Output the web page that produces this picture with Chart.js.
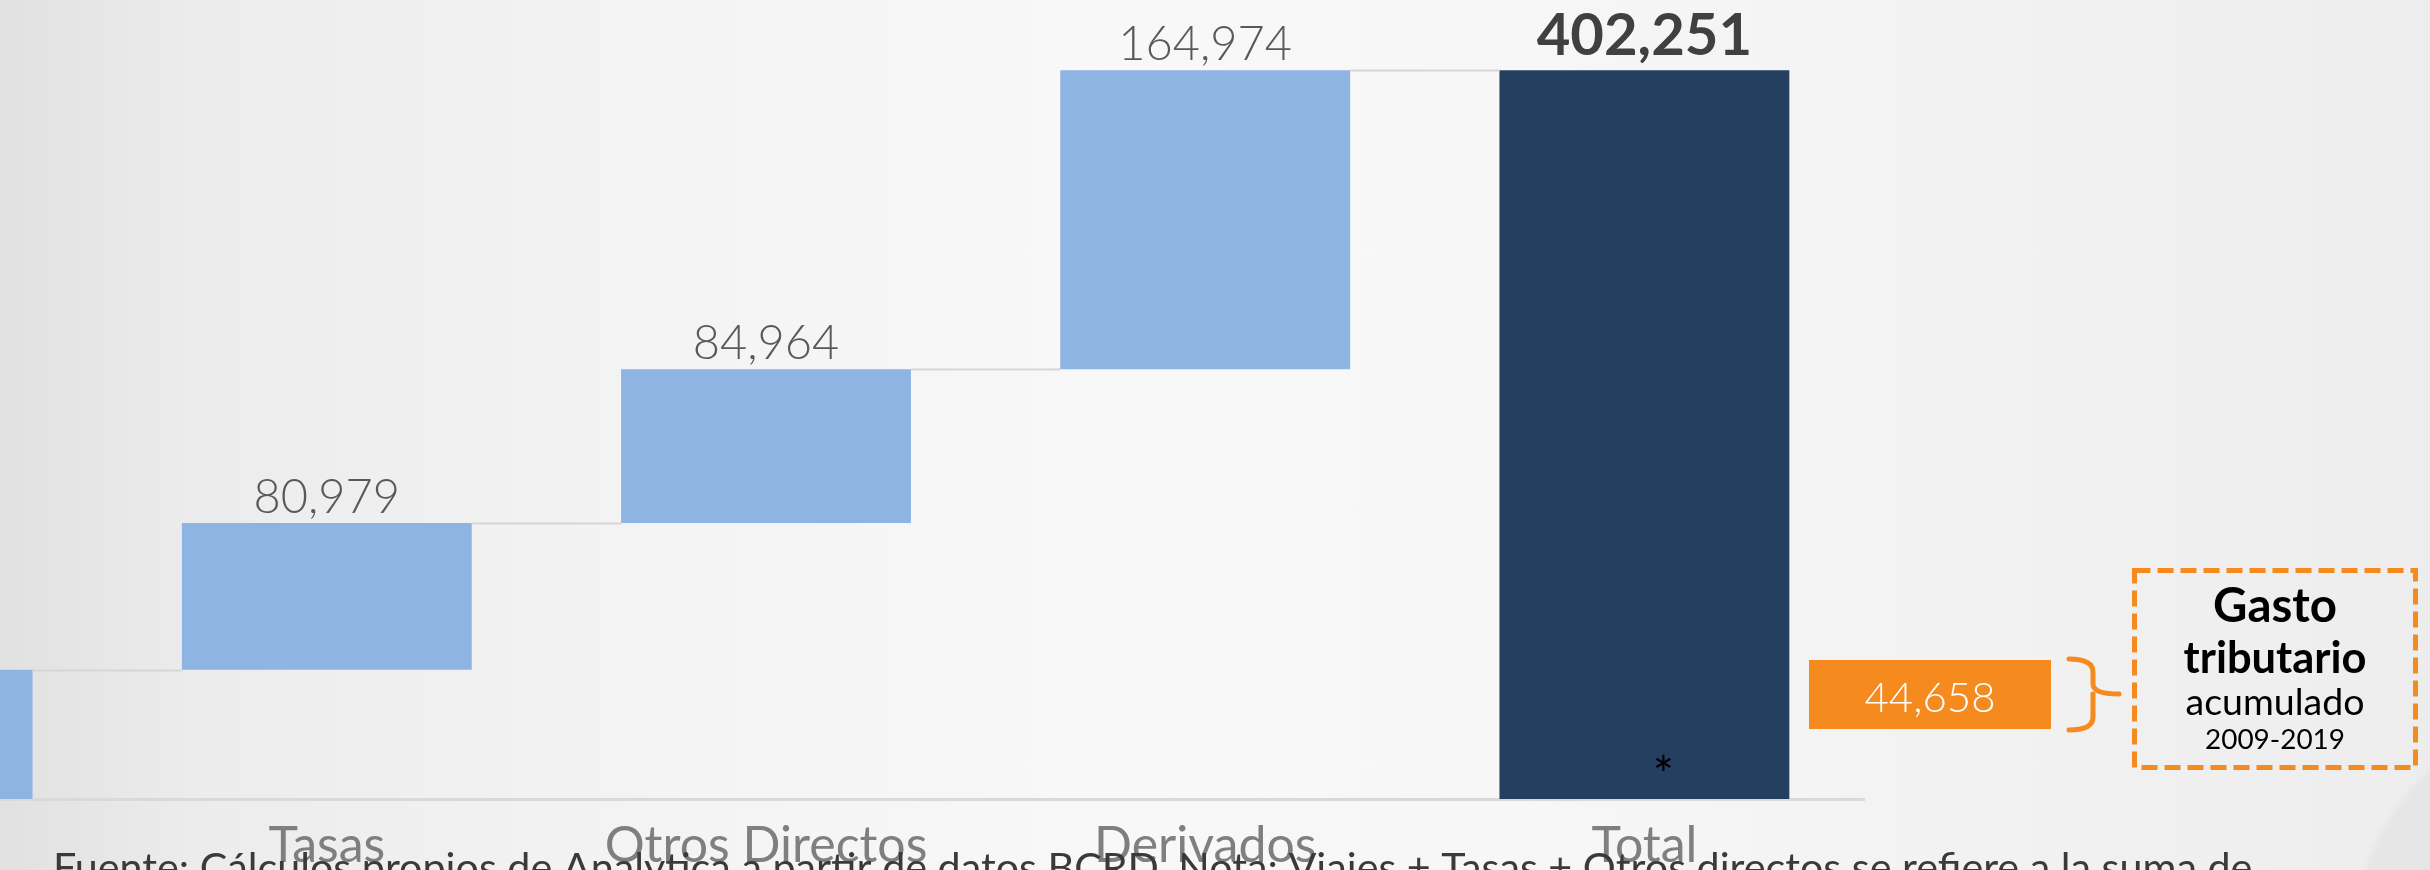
<!DOCTYPE html>
<html>
<head>
<meta charset="utf-8">
<script src="https://cdn.jsdelivr.net/npm/chart.js@4"></script>
<style>
  html, body { margin: 0; padding: 0; }
  #wrap {
    position: relative; width: 2430px; height: 870px; overflow: hidden;
    background:
      radial-gradient(circle 250px at 2600px 950px, #e3e3e3 0, #e6e6e6 244px, rgba(230,230,230,0) 252px),
      linear-gradient(90deg, #e1e1e1 0%, #ececec 8%, #f3f3f3 25%, #f8f8f8 45%, #f7f7f7 62%, #f1f1f1 85%, #ededed 100%);
  }
  /* the picture is a crop: the first bar is cut off on the left */
  #chart { position: absolute; left: -332px; top: 0; }
</style>
</head>
<body>
<div id="wrap"><canvas id="chart" width="2762" height="940"></canvas></div>
<script>
const categories = ['Viajes', 'Tasas', 'Otros Directos', 'Derivados', 'Total'];
const values = [71334, 80979, 84964, 164974, 402251];
const isTotal = [false, false, false, false, true];
const gastoTributario = 44658;
const gastoLines = ['Gasto', 'tributario', 'acumulado', '2009-2019'];
const footnote = 'Fuente: Cálculos propios de Analytica a partir de datos BCRD. Nota: Viajes + Tasas + Otros directos se refiere a la suma de';

const OFFSET = 332; // canvas sits 332px left of the page
const FONT = 'Lato, "Open Sans", sans-serif';
const fmt = v => v.toLocaleString('en-US');

// waterfall: floating bars from running total
let run = 0;
const floating = values.map((v, i) => {
  if (isTotal[i]) return [0, v];
  const bar = [run, run + v];
  run += v;
  return bar;
});
const colors = isTotal.map(t => t ? '#243F60' : '#8EB4E3');

function drawFit(ctx, text, cx, baseline, width, weight, color) {
  ctx.font = `${weight} 40px ${FONT}`;
  const size = 40 * width / ctx.measureText(text).width;
  ctx.font = `${weight} ${size}px ${FONT}`;
  ctx.fillStyle = color;
  ctx.textAlign = 'center';
  ctx.textBaseline = 'alphabetic';
  ctx.fillText(text, cx, baseline);
}

const waterfallLabels = {
  id: 'waterfallLabels',
  afterDatasetsDraw(chart) {
    const ctx = chart.ctx;
    const y = chart.scales.y;
    const bars = chart.getDatasetMeta(0).data;
    ctx.save();
    // connectors
    ctx.strokeStyle = '#d6d6d6';
    ctx.lineWidth = 2;
    for (let i = 0; i < bars.length - 1; i++) {
      const a = bars[i], b = bars[i + 1];
      const yy = Math.round(y.getPixelForValue(floating[i][1])) + 0.5;
      ctx.beginPath();
      ctx.moveTo(a.x + a.width / 2, yy);
      ctx.lineTo(b.x - b.width / 2, yy);
      ctx.stroke();
    }
    // value labels
    ctx.textAlign = 'center';
    ctx.textBaseline = 'alphabetic';
    bars.forEach((bar, i) => {
      const top = y.getPixelForValue(floating[i][1]);
      if (isTotal[i]) {
        ctx.font = `bold 58px ${FONT}`;
        ctx.fillStyle = '#404040';
        ctx.fillText(fmt(values[i]), bar.x, top - 15);
      } else {
        ctx.font = `300 47px ${FONT}`;
        ctx.fillStyle = '#595959';
        ctx.fillText(fmt(values[i]), bar.x, top - 10);
      }
    });
    // asterisk on the total bar
    const last = bars[bars.length - 1];
    ctx.font = `50px ${FONT}`;
    ctx.fillStyle = '#000';
    ctx.fillText('*', last.x + 19, 793);
    ctx.restore();
  },
  afterDraw(chart) {
    const ctx = chart.ctx;
    const px = x => x + OFFSET;
    ctx.save();
    // orange value box
    ctx.fillStyle = '#F58A1F';
    ctx.fillRect(px(1809), 660, 242, 69);
    ctx.font = `300 42px ${FONT}`;
    ctx.fillStyle = '#fff';
    ctx.textAlign = 'center';
    ctx.fillText(fmt(gastoTributario), px(1930), 712);
    // brace
    ctx.strokeStyle = '#F58A1F';
    ctx.lineWidth = 5;
    ctx.lineCap = 'round';
    ctx.beginPath();
    ctx.moveTo(px(2069), 659);
    ctx.quadraticCurveTo(px(2093), 659, px(2093), 672);
    ctx.lineTo(px(2093), 684);
    ctx.quadraticCurveTo(px(2093), 694, px(2119), 694);
    ctx.moveTo(px(2093), 694);
    ctx.lineTo(px(2093), 717);
    ctx.quadraticCurveTo(px(2093), 730, px(2069), 730);
    ctx.stroke();
    // dashed box
    ctx.setLineDash([16, 7]);
    ctx.lineCap = 'butt';
    ctx.strokeRect(px(2134.5), 570.5, 281, 197);
    ctx.setLineDash([]);
    drawFit(ctx, gastoLines[0], px(2275), 622, 124, 'bold', '#000');
    drawFit(ctx, gastoLines[1], px(2275), 673, 183, 'bold', '#000');
    drawFit(ctx, gastoLines[2], px(2275), 715, 179, 'normal', '#000');
    drawFit(ctx, gastoLines[3], px(2275), 749, 140, 'normal', '#000');
    // footnote
    ctx.font = `40px ${FONT}`;
    const size = 40 * 2200 / ctx.measureText(footnote).width;
    ctx.font = `${size}px ${FONT}`;
    ctx.fillStyle = '#3a3a3a';
    ctx.textAlign = 'left';
    ctx.fillText(footnote, px(53), 882);
    ctx.restore();
  }
};

new Chart(document.getElementById('chart'), {
  type: 'bar',
  data: {
    labels: categories,
    datasets: [{
      data: floating,
      backgroundColor: colors,
      borderWidth: 0,
      categoryPercentage: 1,
      barPercentage: 0.66
    }]
  },
  options: {
    responsive: false,
    animation: false,
    layout: { padding: { top: 20, right: 566, bottom: 47, left: 0 } },
    plugins: { legend: { display: false }, tooltip: { enabled: false } },
    scales: {
      x: {
        grid: { display: false, drawTicks: false },
        border: { color: '#d9d9d9', width: 3 },
        ticks: {
          color: '#7f7f7f',
          font: { family: FONT, size: 50, weight: 'normal' },
          padding: 17,
          maxRotation: 0,
          autoSkip: false
        }
      },
      y: { display: false, min: 0, max: 430000 }
    }
  },
  plugins: [waterfallLabels]
});
</script>
</body>
</html>
